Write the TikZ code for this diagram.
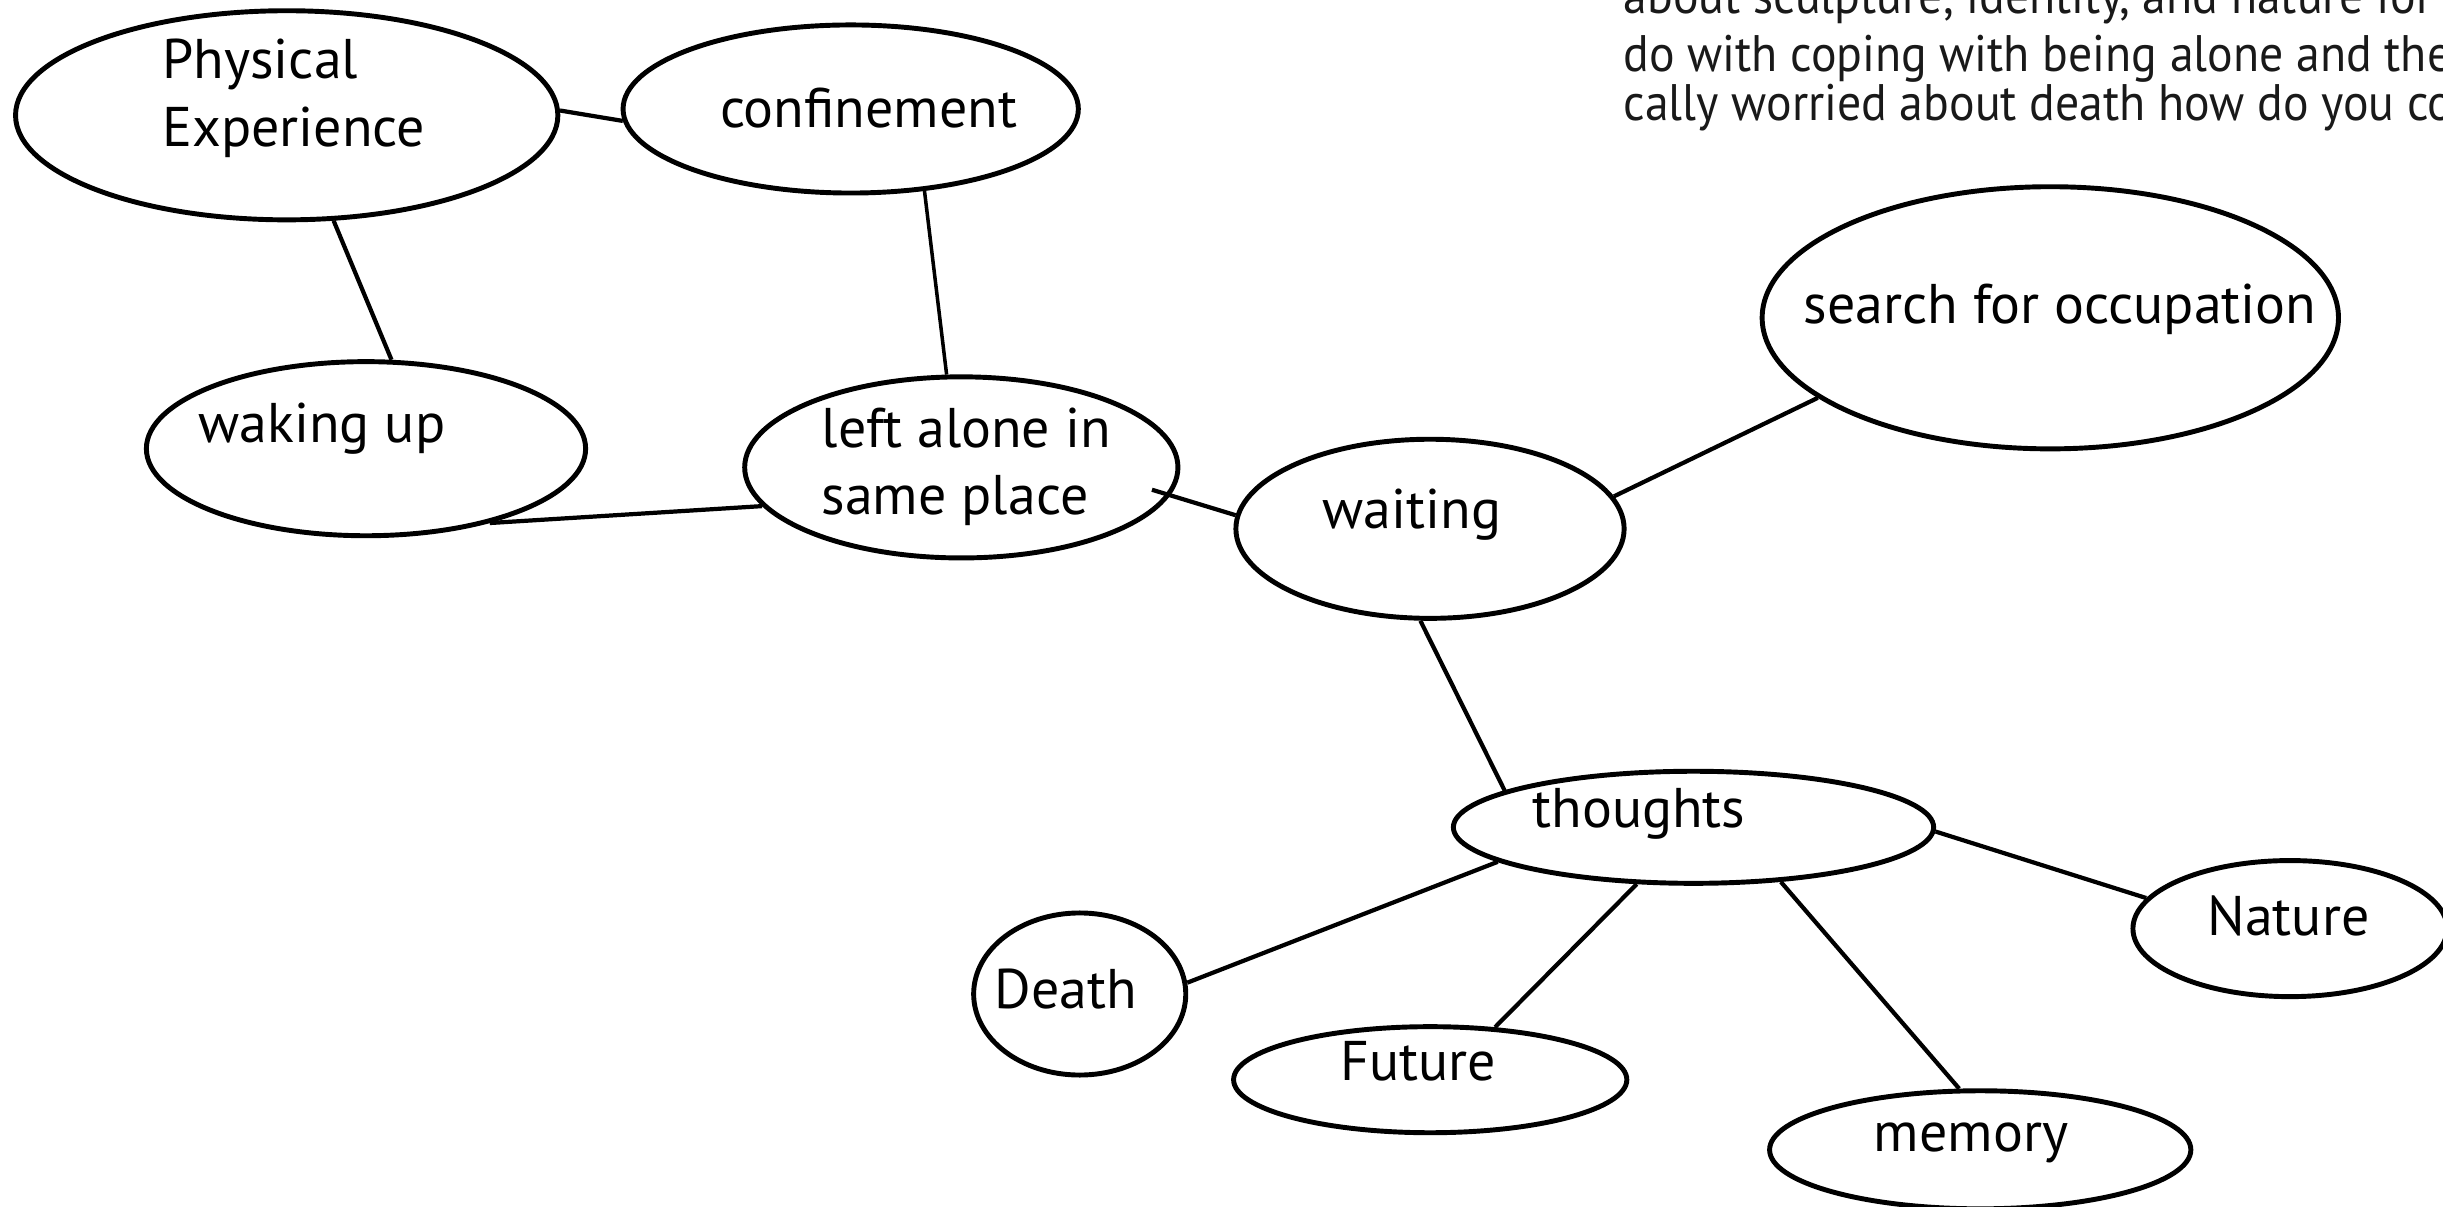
\documentclass[tikz,border=0pt]{standalone}
\usepackage{fontspec}
\setmainfont{PT Sans}
\newfontfamily\notefont[FakeStretch=0.93]{PT Sans}
\usetikzlibrary{shapes.geometric}
\tikzset{
  bubble/.style={draw, ellipse, line width=1.4pt, inner sep=0pt},
  lbl/.style={inner sep=0pt, anchor=base, font=\fontsize{15.9pt}{19pt}\selectfont},
  lblw/.style={inner sep=0pt, anchor=base west, font=\fontsize{15.9pt}{19pt}\selectfont},
  note/.style={inner sep=0pt, anchor=base west, font=\notefont\fontsize{14.6pt}{17pt}\selectfont, text=black!90},
  link/.style={line width=1.2pt},
}
\begin{document}
\begin{tikzpicture}[x=0.01cm, y=-0.01cm]
\useasboundingbox (0,0) rectangle (2443,1207);
\clip (0,0) rectangle (2443,1207);
% note text (cut off as in the reference)
\node[note] (n1) at (1623,14) {about sculpture, identity, and nature for s};
\node[note] (n2) at (1623,72) {do with coping with being alone and the};
\node[note] (n3) at (1623,121) {cally worried about death how do you cop};
% bubbles
\node[bubble, minimum width=5.42cm, minimum height=2.09cm] (pe) at (286.7,115.3) {};
\node[bubble, minimum width=4.55cm, minimum height=1.68cm] (conf) at (850.7,109) {};
\node[bubble, minimum width=4.39cm, minimum height=1.74cm] (wake) at (366,448.7) {};
\node[bubble, minimum width=4.33cm, minimum height=1.81cm] (left) at (961.3,467.4) {};
\node[bubble, minimum width=3.88cm, minimum height=1.79cm] (wait) at (1430,528.8) {};
\node[bubble, minimum width=5.76cm, minimum height=2.62cm] (search) at (2050.3,317.8) {};
\node[bubble, minimum width=4.80cm, minimum height=1.12cm] (thou) at (1693.5,827.3) {};
\node[bubble, minimum width=2.12cm, minimum height=1.62cm] (death) at (1079.7,994) {};
\node[bubble, minimum width=3.93cm, minimum height=1.06cm] (fut) at (1430.2,1079.7) {};
\node[bubble, minimum width=4.21cm, minimum height=1.18cm] (mem) at (1980.2,1149.8) {};
\node[bubble, minimum width=3.14cm, minimum height=1.36cm] (nat) at (2290,928.6) {};
% labels
\node[lblw] (pe1) at (161.7,78.3) {Physical};
\node[lblw] (pe2) at (161.7,146.7) {Experience};
\node[lbl] (conft) at (868.5,128) {confinement};
\node[lbl] (waket) at (322,443) {waking up};
\node[lblw] (left1) at (821,447.5) {left alone in};
\node[lblw] (left2) at (821,514.4) {same place};
\node[lbl] (waitt) at (1412,528.3) {waiting};
\node[lbl] (searcht) at (2060,323.3) {search for occupation};
\node[lbl] (thout) at (1639,827.6) {thoughts};
\node[lbl] (deatht) at (1066,1008) {Death};
\node[lbl] (futt) at (1418,1080) {Future};
\node[lbl] (memt) at (1971,1151.7) {memory};
\node[lbl] (natt) at (2288.5,935) {Nature};
% connectors
\draw[link] (pe.1) -- (conf.183);
\draw[link] (pe.-66.4) -- (wake.74.7);
\draw[link, line width=1pt] (conf.-48.6) -- (left.99.8);
\draw[link] (wake.-31.1) -- (left.191.4);
\draw[link] ([xshift=-0.22cm]left.-6.9) -- (wait.176.1);
\draw[link] (wait.10.5) -- (search.199.4);
\draw[link] (wait.264.8) -- (thou.169.9);
\draw[link] (thou.190.1) -- (death.6.6);
\draw[link] (thou.225) -- (fut.39.2);
\draw[link] (thou.328) -- (mem.109.3);
\draw[link] (thou.-1.9) -- (nat.168.7);
\end{tikzpicture}
\end{document}
